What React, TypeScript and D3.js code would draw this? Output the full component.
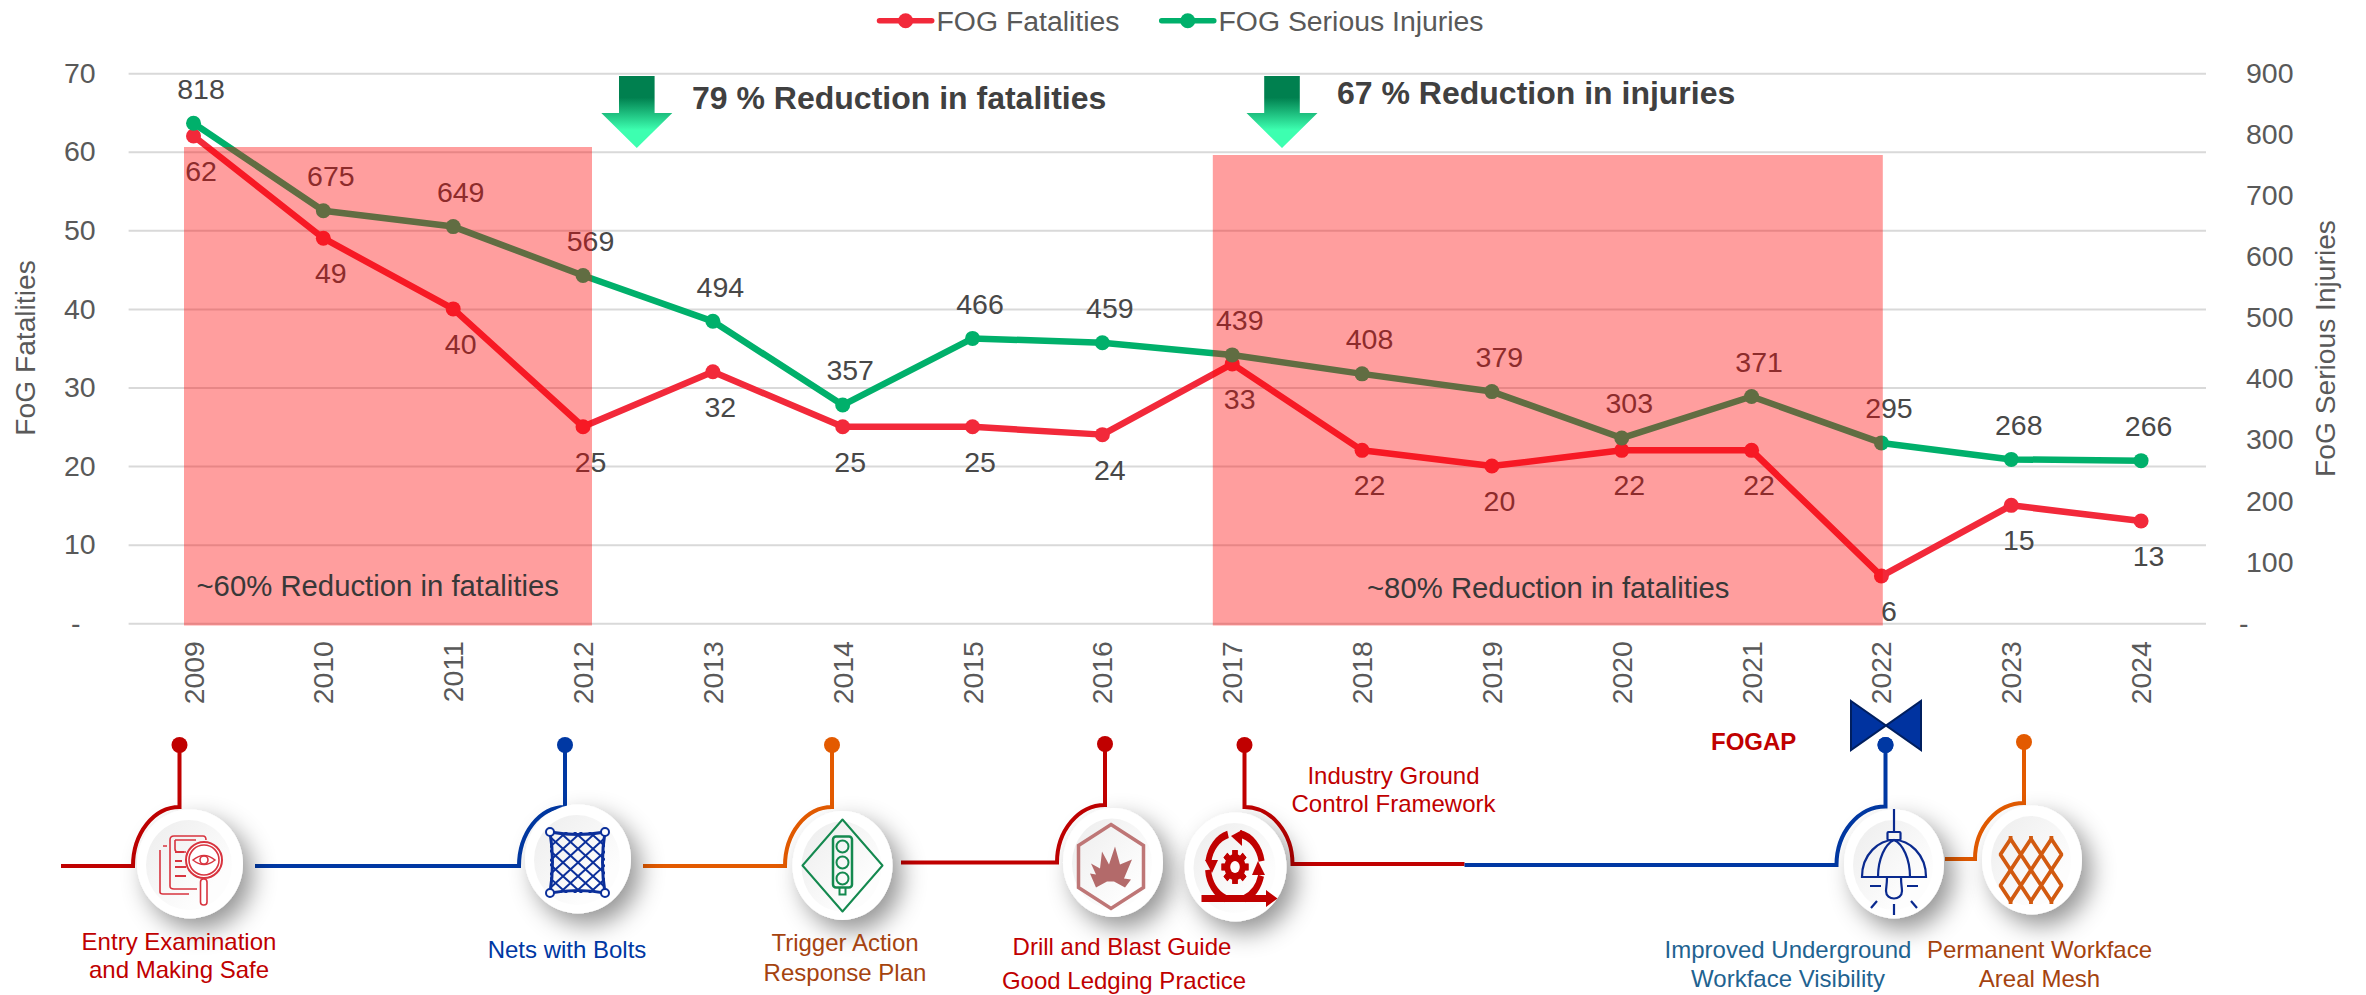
import { useEffect, useRef } from "react";
import * as d3 from "d3";

const years = ["2009", "2010", "2011", "2012", "2013", "2014", "2015", "2016", "2017", "2018", "2019", "2020", "2021", "2022", "2023", "2024"];
const fatalities = [62, 49, 40, 25, 32, 25, 25, 24, 33, 22, 20, 22, 22, 6, 15, 13];
const seriousInjuries = [818, 675, 649, 569, 494, 357, 466, 459, 439, 408, 379, 303, 371, 295, 268, 266];
const leftTicks = [0, 10, 20, 30, 40, 50, 60, 70];
const rightTicks = [0, 100, 200, 300, 400, 500, 600, 700, 800, 900];

const RED = "#F2293A";
const GREEN = "#00B06B";
const MS_RED = "#C00000";
const MS_BLUE = "#0038A3";
const MS_ORANGE = "#E35A00";
const FONT = "'Liberation Sans', Arial, sans-serif";

// the infographic strip under the chart, not data
const stations = [
  { color: MS_RED, from: 61, lineY: 866, knee: 133, pinX: 179.5, topY: 807, pinY: 745, cx: 190, cy: 864, rx: 53 },
  { color: MS_BLUE, from: 255, lineY: 866, knee: 519, pinX: 565, topY: 807, pinY: 745, cx: 578, cy: 859, rx: 53 },
  { color: MS_ORANGE, from: 643, lineY: 866, knee: 785, pinX: 832, topY: 807, pinY: 745, cx: 842.5, cy: 865.5, rx: 50 },
  { color: MS_RED, from: 901, lineY: 862.5, knee: 1057, pinX: 1105, topY: 805, pinY: 744, cx: 1113, cy: 862.5, rx: 50 },
  { color: MS_RED, from: 1464.5, lineY: 864, knee: 1292.5, pinX: 1244.5, topY: 807, pinY: 745, cx: 1235.5, cy: 867, rx: 51 },
  { color: MS_BLUE, from: 1464.5, lineY: 865, knee: 1836.5, pinX: 1885.5, topY: 806.5, pinY: 745, cx: 1894, cy: 864, rx: 50 },
  { color: MS_ORANGE, from: 1945, lineY: 859, knee: 1975, pinX: 2024, topY: 803, pinY: 742, cx: 2032, cy: 860, rx: 50 },
];

const captions = [
  { text: "Entry Examination", x: 179, y: 950, fill: MS_RED },
  { text: "and Making Safe", x: 179, y: 978, fill: MS_RED },
  { text: "Nets with Bolts", x: 567, y: 958, fill: MS_BLUE },
  { text: "Trigger Action", x: 845, y: 950.5, fill: "#A5430F" },
  { text: "Response Plan", x: 845, y: 980.5, fill: "#A5430F" },
  { text: "Drill and Blast Guide", x: 1122, y: 955, fill: MS_RED },
  { text: "Good Ledging Practice", x: 1124, y: 989, fill: MS_RED },
  { text: "Industry Ground", x: 1393.5, y: 784, fill: MS_RED },
  { text: "Control Framework", x: 1393.5, y: 811.5, fill: MS_RED },
  { text: "Improved Underground", x: 1788, y: 958, fill: "#1F6391" },
  { text: "Workface Visibility", x: 1788, y: 986.5, fill: "#1F6391" },
  { text: "Permanent Workface", x: 2039.5, y: 958, fill: "#A5430F" },
  { text: "Areal Mesh", x: 2039.5, y: 986.5, fill: "#A5430F" },
];

type G = d3.Selection<SVGGElement, unknown, null, undefined>;

function drawDocIcon(g: G) {
  const c = "#D8343F";
  const ico = g.append("g").attr("fill", "none").attr("stroke", c).attr("stroke-width", 1.6);
  ico.append("path").attr("d", "M-27 -18 H-23 M-30 -14 V28 Q-30 30 -27 30 H-1");
  ico.append("path").attr("d", "M-20 -24 Q-20 -28 -16 -28 H13 Q16 -28 16 -24 M-20 -24 V22 Q-20 25 -16 25 H7");
  ico.append("path").attr("d", "M-15 -24 H6 M-15 -24 V-15 Q-15 -12 -12 -12 H-4");
  ico.append("path").attr("d", "M-15 -12 H-6 M-15 -3 H-8 M-15 3 H-4 M-15 12 H-4").attr("stroke-width", 2);
  ico.append("circle").attr("cx", 14).attr("cy", -4).attr("r", 18).attr("fill", "#fff").attr("stroke-width", 2);
  ico.append("circle").attr("cx", 14).attr("cy", -4).attr("r", 15);
  ico.append("path").attr("d", "M3 -4 Q14 -13 25 -4 Q14 5 3 -4Z");
  ico.append("circle").attr("cx", 14).attr("cy", -4).attr("r", 4);
  ico.append("rect").attr("x", 10.5).attr("y", 15).attr("width", 6.5).attr("height", 26).attr("rx", 3).attr("fill", "#fff");
}

function drawNetIcon(g: G) {
  const c = "#0B2F9A";
  const [x0, x1, y0, y1] = [-28, 27, -27, 34];
  const clipId = "net-clip";
  g.append("clipPath").attr("id", clipId).append("rect").attr("x", x0).attr("y", y0).attr("width", x1 - x0).attr("height", y1 - y0);
  const net = g.append("g").attr("clip-path", `url(#${clipId})`).attr("stroke", c).attr("stroke-width", 2).attr("fill", "none");
  d3.range(-8, 8).forEach((i) => {
    const o = i * 15;
    net.append("line").attr("x1", o - 40).attr("y1", y0 - 6).attr("x2", o + 40).attr("y2", y1 + 6);
    net.append("line").attr("x1", o + 40).attr("y1", y0 - 6).attr("x2", o - 40).attr("y2", y1 + 6);
  });
  const edge = g.append("g").attr("stroke", c).attr("stroke-width", 3).attr("fill", "none");
  edge.append("path").attr("d", `M${x0} ${y0} Q0 ${y0 + 5} ${x1} ${y0} Q${x1 - 5} 3 ${x1} ${y1} Q0 ${y1 - 5} ${x0} ${y1} Q${x0 + 5} 3 ${x0} ${y0}Z`);
  [[x0, y0], [x1, y0], [x0, y1], [x1, y1]].forEach(([x, y]) => {
    g.append("circle").attr("cx", x).attr("cy", y).attr("r", 4).attr("fill", "#fff").attr("stroke", c).attr("stroke-width", 2);
  });
}

function drawSignalIcon(g: G) {
  const c = "#14894F";
  const ico = g.append("g").attr("fill", "none").attr("stroke", c).attr("stroke-width", 2);
  ico.append("path").attr("d", "M0 -46 L40 0 L0 46 L-40 0Z").attr("stroke-linejoin", "round");
  ico.append("rect").attr("x", -9.5).attr("y", -29).attr("width", 19).attr("height", 51).attr("rx", 3).attr("stroke-width", 2.5);
  [-19, -3, 13].forEach((y) => ico.append("circle").attr("cy", y).attr("r", 6));
  ico.append("path").attr("d", "M-3 22 V29 H3 V22");
}

function drawBlastIcon(g: G) {
  const c = "#B36A6A";
  g.append("path").attr("d", "M0 -42 L32.5 -21 V21 L0 42 L-32.5 21 V-21Z").attr("fill", "none").attr("stroke", "#BE7676").attr("stroke-width", 3.5);
  const spikes: [number, number][] = [[-20, -3], [-11, 2], [-9, -15], [-2, -2], [4, -20], [9, -2], [21, -7], [13, 12], [20, 13], [14, 21], [3, 15], [-4, 15], [-15, 21], [-21, 7], [-15, 8]];
  g.append("path").attr("d", d3.line().curve(d3.curveLinearClosed)(spikes)).attr("fill", c);
}

function drawCycleIcon(g: G) {
  const c = MS_RED;
  const arc = d3.arc();
  const deg = Math.PI / 180;
  const ring = (a0: number, a1: number) =>
    arc({ innerRadius: 24, outerRadius: 30, startAngle: a0 * deg, endAngle: a1 * deg }) as string;
  // ring and gear are taller than wide in the picture
  const tall = g.append("g").attr("transform", "scale(1,1.25)");
  [[10, 80], [105, 160], [200, 265], [280, 345]].forEach(([a0, a1]) => {
    tall.append("path").attr("d", ring(a0, a1)).attr("fill", c);
  });
  d3.range(8).forEach((i) => {
    tall.append("rect").attr("x", -2.7).attr("y", -13.5).attr("width", 5.4).attr("height", 27).attr("fill", c).attr("transform", `rotate(${i * 45})`);
  });
  tall.append("circle").attr("r", 10.5).attr("fill", c);
  tall.append("ellipse").attr("rx", 4.8).attr("ry", 4.8).attr("fill", "#fff");
  // arrow heads on the ring and the run along the bottom
  g.append("path").attr("d", "M-4 -31 L7 -37 L7 -21Z").attr("fill", c);
  g.append("path").attr("d", "M23 -6 L30 8 L17 8Z").attr("fill", c);
  g.append("path").attr("d", "M-23 6 L-30 -7 L-17 -7Z").attr("fill", c);
  g.append("path").attr("d", "M-33.5 28 H31 V23 L42.5 31.5 L31 40 V35 H-33.5Z").attr("fill", c);
}

function drawLampIcon(g: G) {
  const c = "#0A2A8F";
  const ico = g.append("g").attr("fill", "none").attr("stroke", c).attr("stroke-width", 2.2);
  ico.append("path").attr("d", "M0 -55 V-32");
  ico.append("rect").attr("x", -6.5).attr("y", -32).attr("width", 13).attr("height", 8).attr("rx", 1);
  ico.append("path").attr("d", "M-32 13 C-32 -10 -15 -24 0 -24 C15 -24 32 -10 32 13 Z");
  ico.append("path").attr("d", "M-16 13 C-16 -5 -9 -20 0 -24 C9 -20 16 -5 16 13");
  ico.append("path").attr("d", "M-7 13 C-7 20 -8 24 -8 27 C-8 37 8 37 8 27 C8 24 7 20 7 13");
  ico.append("path").attr("d", "M-24 22 H-13 M13 22 H24 M-17 37 L-23 44 M17 37 L23 44 M0 40 V51");
}

function drawMeshIcon(g: G) {
  const c = "#D25A10";
  const ico = g.append("g").attr("fill", "none").attr("stroke", c).attr("stroke-width", 3.8).attr("stroke-linejoin", "bevel");
  const [w, h] = [20.4, 31];
  d3.range(3).forEach((col) => {
    d3.range(2).forEach((row) => {
      const x = (col - 1) * w;
      const y = (row - 0.5) * h + 10;
      ico.append("path").attr("d", `M${x} ${y - h / 2} L${x + w / 2} ${y} L${x} ${y + h / 2} L${x - w / 2} ${y}Z`);
    });
    const x = (col - 1) * w;
    ico.append("path").attr("d", `M${x} ${10 - h - 3} V${10 - h} M${x} ${10 + h} V${10 + h + 3}`);
  });
}

const stationIcons = [
  { draw: drawDocIcon, dx: 0, dy: 0 },
  { draw: drawNetIcon, dx: 0, dy: 0 },
  { draw: drawSignalIcon, dx: 0, dy: 0 },
  { draw: drawBlastIcon, dx: -2, dy: 4 },
  { draw: drawCycleIcon, dx: -0.5, dy: 0 },
  { draw: drawLampIcon, dx: 0, dy: 0 },
  { draw: drawMeshIcon, dx: -1, dy: 0 },
];

export default function App() {
  const ref = useRef<SVGSVGElement>(null);

  useEffect(() => {
    const svg = d3.select(ref.current!);
    svg.selectAll("*").remove();
    svg.style("font-family", FONT);

    const plot = { left: 128.6, right: 2206, top: 73.2, bottom: 623.2 };

    const x = d3.scaleBand().domain(years).range([plot.left, plot.right]);
    const xc = (d: string) => (x(d) as number) + x.bandwidth() / 2;
    const yL = d3.scaleLinear().domain([0, 70]).range([plot.bottom, plot.top]);
    const yR = d3.scaleLinear().domain([0, 900]).range([plot.bottom, plot.top]);

    const defs = svg.append("defs");
    const grad = defs.append("linearGradient").attr("id", "arrow-fill").attr("x1", 0).attr("x2", 0).attr("y1", 0).attr("y2", 1);
    grad.append("stop").attr("offset", "0%").attr("stop-color", "#00804F");
    grad.append("stop").attr("offset", "30%").attr("stop-color", "#00804F");
    grad.append("stop").attr("offset", "75%").attr("stop-color", "#3DFFB0");
    grad.append("stop").attr("offset", "100%").attr("stop-color", "#3DFFB0");
    const disc = defs.append("linearGradient").attr("id", "disc-fill").attr("x1", 0).attr("x2", 1).attr("y1", 0).attr("y2", 1);
    disc.append("stop").attr("offset", "0%").attr("stop-color", "#EDEDED");
    disc.append("stop").attr("offset", "75%").attr("stop-color", "#FDFDFD");
    const shadow = defs.append("filter").attr("id", "disc-shadow").attr("x", "-60%").attr("y", "-60%").attr("width", "220%").attr("height", "220%");
    shadow.append("feDropShadow").attr("dx", 9).attr("dy", 11).attr("stdDeviation", 12).attr("flood-color", "#000").attr("flood-opacity", 0.42);

    // Y axes, the left one also draws the grid
    const left = svg
      .append("g")
      .attr("transform", `translate(${plot.left},0)`)
      .call(d3.axisLeft(yL).tickValues(leftTicks).tickSize(-(plot.right - plot.left)).tickPadding(33).tickFormat((d) => (d === 0 ? "-" : String(d))));
    left.select(".domain").remove();
    left.selectAll("line").attr("stroke", "#D9D9D9").attr("stroke-width", 2);
    left.selectAll("text").attr("fill", "#595959").style("font-size", "28.5px").style("font-family", FONT);
    left.selectAll<SVGTextElement, number>("text").filter((d) => d === 0).attr("dx", -15);

    const right = svg
      .append("g")
      .attr("transform", `translate(${plot.right},0)`)
      .call(d3.axisRight(yR).tickValues(rightTicks).tickSize(0).tickPadding(40).tickFormat((d) => (d === 0 ? "-" : String(d))));
    right.select(".domain").remove();
    right.selectAll("text").attr("fill", "#595959").style("font-size", "28.5px").style("font-family", FONT);
    right.selectAll<SVGTextElement, number>("text").filter((d) => d === 0).attr("dx", -7);

    // X axis, years turned upward
    const bottom = svg
      .append("g")
      .attr("transform", `translate(0,${plot.bottom})`)
      .call(d3.axisBottom(x).tickSize(0).tickPadding(0));
    bottom.select(".domain").remove();
    bottom
      .selectAll("text")
      .attr("fill", "#595959")
      .style("font-size", "28.4px")
      .style("font-family", FONT)
      .attr("text-anchor", "end")
      .attr("dy", null)
      .attr("y", null)
      .attr("transform", "translate(10,18) rotate(-90)");

    // axis titles
    svg.append("text").attr("transform", "translate(35,348) rotate(-90)").attr("text-anchor", "middle").attr("fill", "#595959").style("font-size", "28.2px").text("FoG Fatalities");
    svg.append("text").attr("transform", "translate(2335,348.5) rotate(-90)").attr("text-anchor", "middle").attr("fill", "#595959").style("font-size", "28.2px").text("FoG Serious Injuries");

    // series
    const series = [
      { name: "FOG Fatalities", color: RED, values: fatalities, scale: yL, labelDy: 45 },
      { name: "FOG Serious Injuries", color: GREEN, values: seriousInjuries, scale: yR, labelDy: -24.7 },
    ];
    series.forEach((s) => {
      const line = d3.line<number>().x((_, i) => xc(years[i])).y((d) => s.scale(d));
      svg.append("path").attr("d", line(s.values)).attr("fill", "none").attr("stroke", s.color).attr("stroke-width", 6.5).attr("stroke-linejoin", "round");
      svg.append("g").selectAll("circle").data(s.values).join("circle").attr("cx", (_, i) => xc(years[i])).attr("cy", (d) => s.scale(d)).attr("r", 7.5).attr("fill", s.color);
      svg.append("g").selectAll("text").data(s.values).join("text").attr("x", (_, i) => xc(years[i]) + 7.5).attr("y", (d) => s.scale(d) + s.labelDy).attr("text-anchor", "middle").attr("fill", "#484848").style("font-size", "28.5px").text((d) => d);
    });

    // legend
    const legendKeys = [
      { keyFrom: 877.5, keyTo: 933.7, textX: 936.5 },
      { keyFrom: 1159.7, keyTo: 1215.8, textX: 1218.5 },
    ];
    legendKeys.forEach((k, i) => {
      const s = series[i];
      svg.append("line").attr("x1", k.keyFrom + 2).attr("x2", k.keyTo - 2).attr("y1", 20.7).attr("y2", 20.7).attr("stroke", s.color).attr("stroke-width", 5.5).attr("stroke-linecap", "round");
      svg.append("circle").attr("cx", (k.keyFrom + k.keyTo) / 2).attr("cy", 20.7).attr("r", 7.5).attr("fill", s.color);
      svg.append("text").attr("x", k.textX).attr("y", 30.5).attr("fill", "#595959").style("font-size", "28.4px").text(s.name);
    });

    // highlight bands sit over the lines and their labels
    const bands = [
      { x: 184, to: 592, y: 147, text: "~60% Reduction in fatalities", textX: 196.5, textY: 596 },
      { x: 1212.8, to: 1882.8, y: 155, text: "~80% Reduction in fatalities", textX: 1367, textY: 598 },
    ];
    bands.forEach((b) => {
      svg.append("rect").attr("x", b.x).attr("y", b.y).attr("width", b.to - b.x).attr("height", 625.5 - b.y).attr("fill", "#FF0000").attr("fill-opacity", 0.38);
      svg.append("text").attr("x", b.textX).attr("y", b.textY).attr("fill", "#383838").style("font-size", "29.3px").text(b.text);
    });

    // arrows and headline text
    const arrows = [
      { cx: 636.8, text: "79 % Reduction in fatalities", textX: 692, textY: 109 },
      { cx: 1282, text: "67 % Reduction in injuries", textX: 1337, textY: 104 },
    ];
    arrows.forEach((a) => {
      svg
        .append("path")
        .attr("transform", `translate(${a.cx},0)`)
        .attr("d", "M-17.8 76 H17.8 V113 H35.5 L0 148 L-35.5 113 H-17.8Z")
        .attr("fill", "url(#arrow-fill)");
      svg.append("text").attr("x", a.textX).attr("y", a.textY).attr("fill", "#404040").style("font-size", "32px").style("font-weight", "bold").text(a.text);
    });

    // timeline strip
    const strip = svg.append("g");
    stations.forEach((st) => {
      const sweep = st.knee < st.pinX ? 1 : 0;
      const rx = Math.abs(st.pinX - st.knee);
      const ry = st.lineY - st.topY;
      strip
        .append("path")
        .attr("d", `M${st.from} ${st.lineY} H${st.knee} A${rx} ${ry} 0 0 ${sweep} ${st.pinX} ${st.topY} V${st.pinY}`)
        .attr("fill", "none")
        .attr("stroke", st.color)
        .attr("stroke-width", 4);
      strip.append("ellipse").attr("cx", st.pinX).attr("cy", st.pinY).attr("rx", 8).attr("ry", 8).attr("fill", st.color);
    });
    stations.forEach((st, i) => {
      strip.append("ellipse").attr("cx", st.cx).attr("cy", st.cy).attr("rx", st.rx).attr("ry", 54.5).attr("fill", "#fff").attr("filter", "url(#disc-shadow)");
      strip.append("ellipse").attr("cx", st.cx - 1).attr("cy", st.cy + 1).attr("rx", st.rx - 10).attr("ry", 45).attr("fill", "url(#disc-fill)");
      const ic = stationIcons[i];
      ic.draw(strip.append("g").attr("transform", `translate(${st.cx + ic.dx},${st.cy + ic.dy})`));
    });

    // FOGAP marker
    strip.append("path").attr("d", "M1851 701 L1921 750 V701 L1851 750Z").attr("fill", "#0033A0").attr("stroke", "#001F5F").attr("stroke-width", 2);
    strip.append("circle").attr("cx", 1885.5).attr("cy", 745).attr("r", 8).attr("fill", MS_BLUE);
    strip.append("text").attr("x", 1711).attr("y", 750).attr("fill", MS_RED).style("font-size", "24px").style("font-weight", "bold").text("FOGAP");

    captions.forEach((c) => {
      strip.append("text").attr("x", c.x).attr("y", c.y).attr("text-anchor", "middle").attr("fill", c.fill).style("font-size", "24px").text(c.text);
    });
  }, []);

  return <svg ref={ref} width={2366} height={995} style={{ position: "absolute", left: 0, top: 0, display: "block" }} />;
}
